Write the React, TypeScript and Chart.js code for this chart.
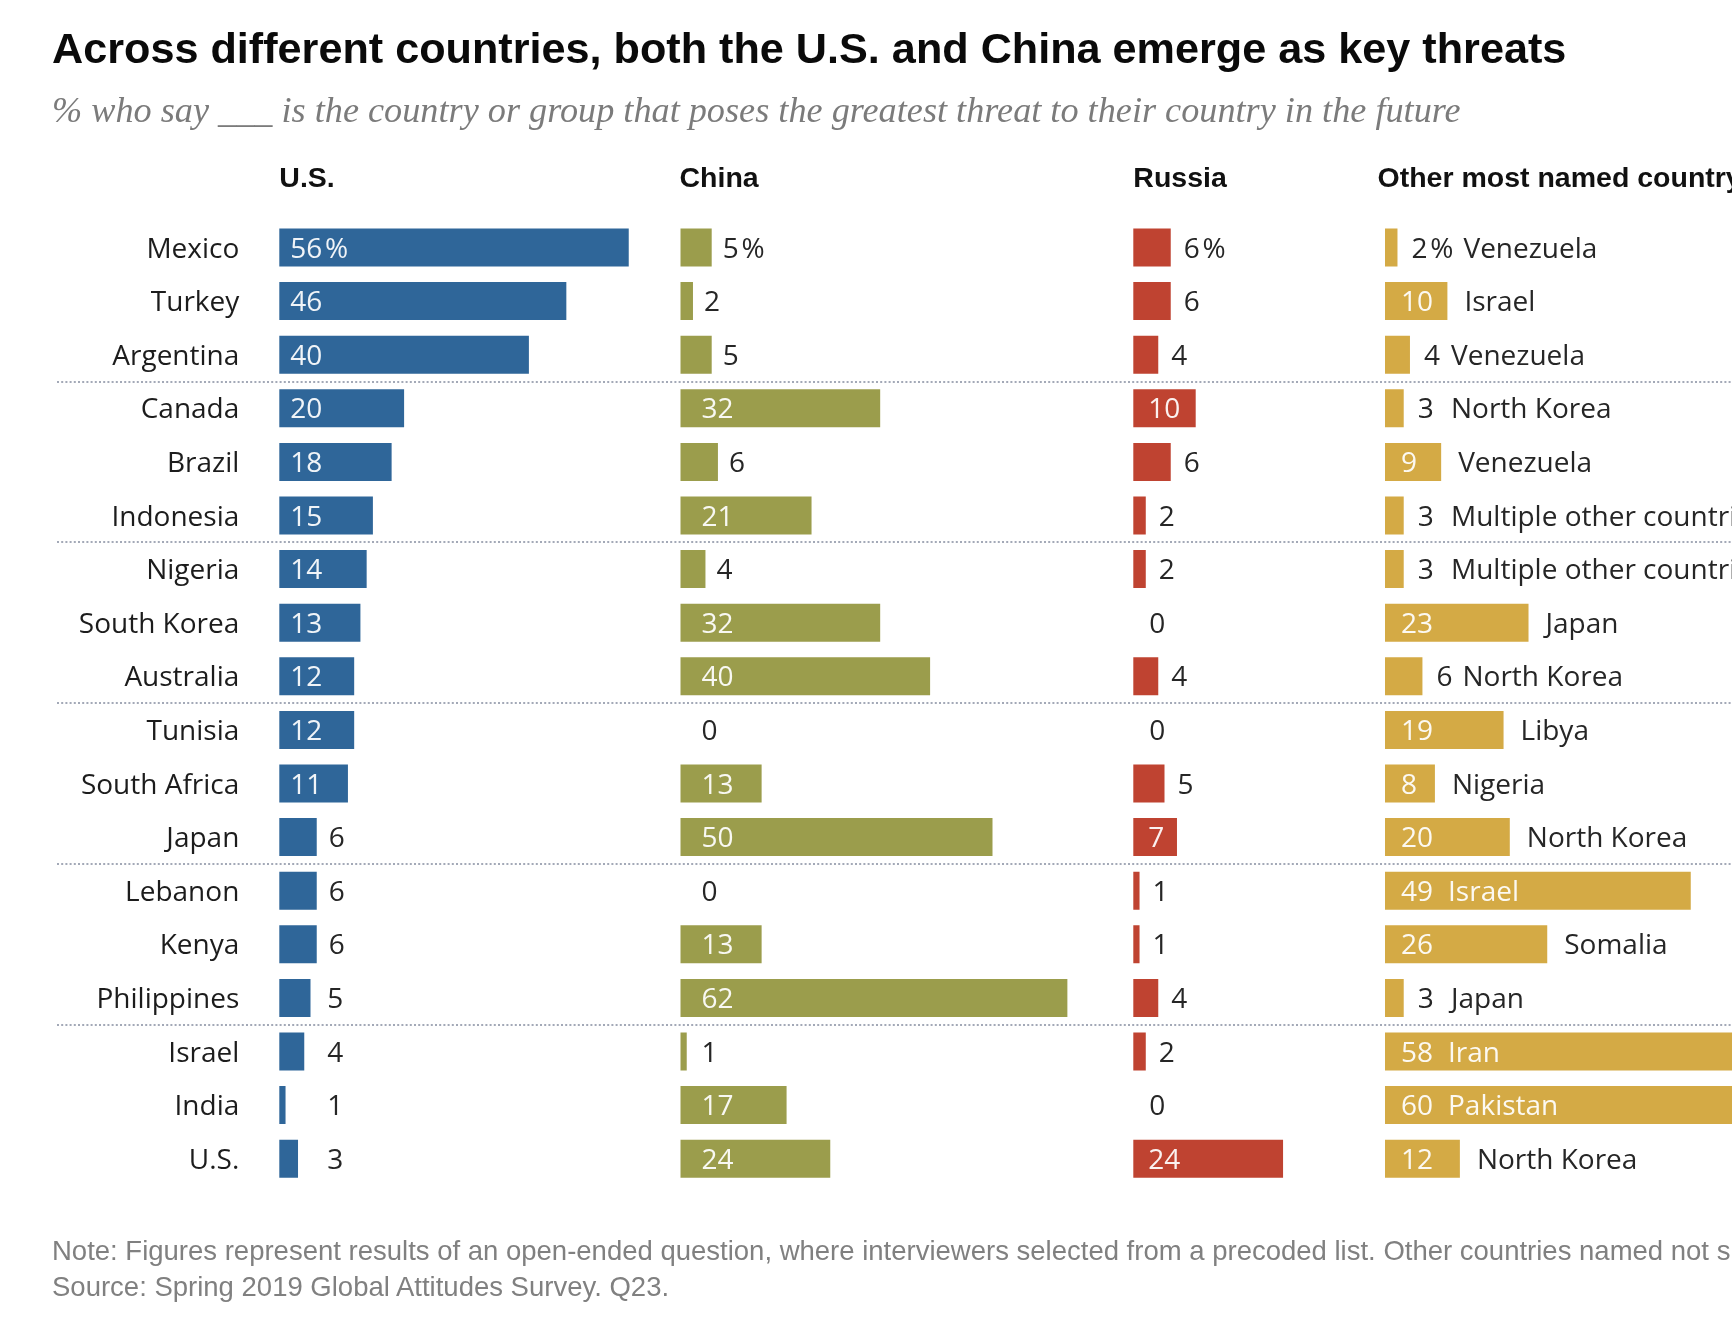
import React, { useEffect, useRef, useState } from 'react';
import { Chart, registerables } from 'chart.js';

Chart.register(...registerables);

// ---------- data ----------
const COUNTRIES = [
  'Mexico', 'Turkey', 'Argentina', 'Canada', 'Brazil', 'Indonesia',
  'Nigeria', 'South Korea', 'Australia', 'Tunisia', 'South Africa', 'Japan',
  'Lebanon', 'Kenya', 'Philippines', 'Israel', 'India', 'U.S.',
];
const US_VALUES = [56, 46, 40, 20, 18, 15, 14, 13, 12, 12, 11, 6, 6, 6, 5, 4, 1, 3];
const CHINA_VALUES = [5, 2, 5, 32, 6, 21, 4, 32, 40, 0, 13, 50, 0, 13, 62, 1, 17, 24];
const RUSSIA_VALUES = [6, 6, 4, 10, 6, 2, 2, 0, 4, 0, 5, 7, 1, 1, 4, 2, 0, 24];
const OTHER_VALUES = [2, 10, 4, 3, 9, 3, 3, 23, 6, 19, 8, 20, 49, 26, 3, 58, 60, 12];
const OTHER_NAMES = [
  'Venezuela', 'Israel', 'Venezuela', 'North Korea', 'Venezuela', 'Multiple other countries',
  'Multiple other countries', 'Japan', 'North Korea', 'Libya', 'Nigeria', 'North Korea',
  'Israel', 'Somalia', 'Japan', 'Iran', 'Pakistan', 'North Korea',
];
const COLUMN_HEADERS = ['U.S.', 'China', 'Russia', 'Other most named country'];
const GROUP_ENDS = [2, 5, 8, 11, 14];

const TITLE = 'Across different countries, both the U.S. and China emerge as key threats';
const SUBTITLE = '% who say ___ is the country or group that poses the greatest threat to their country in the future';
const NOTE = 'Note: Figures represent results of an open-ended question, where interviewers selected from a precoded list. Other countries named not shown.';
const SOURCE = 'Source: Spring 2019 Global Attitudes Survey. Q23.';

// ---------- layout / style ----------
const W = 1732;
const H = 1324;
const PX_PER_UNIT = 6.24;
const COLUMN_START = [279.3, 680.5, 1133.3, 1385];
const CHART_TOP = 220.7;
const CHART_BOTTOM = 1185.5;
const LABEL_FONT = '28px "Open Sans"';
const HEADER_FONT = 'bold 28.5px "Liberation Sans"';
const INSIDE_COLOR = 'rgba(255,255,255,0.93)';
const OUTSIDE_COLOR = '#262626';
const SUBTITLE_FAMILY = '"Liberation Serif", "DejaVu Serif", serif';
const SUBTITLE_WIDTH = 1409;

const COLUMNS = [
  { id: 'xUS', values: US_VALUES, header: COLUMN_HEADERS[0], color: '#2f6699', inPad: 11, outGap: 12, outMin: 48, headerDx: 0, names: null as string[] | null },
  { id: 'xCN', values: CHINA_VALUES, header: COLUMN_HEADERS[1], color: '#9b9d4c', inPad: 21, outGap: 11, outMin: 21, headerDx: -1, names: null },
  { id: 'xRU', values: RUSSIA_VALUES, header: COLUMN_HEADERS[2], color: '#bf4331', inPad: 15, outGap: 13, outMin: 16, headerDx: 0, names: null },
  { id: 'xOT', values: OTHER_VALUES, header: COLUMN_HEADERS[3], color: '#d4aa45', inPad: 16, outGap: 14, outMin: 14, headerDx: -7.5, names: OTHER_NAMES },
];

const labelPlugin = {
  id: 'pewLabels',
  beforeDatasetsDraw(chart: any) {
    const { ctx } = chart;
    const yScale = chart.scales.y;
    ctx.save();
    ctx.strokeStyle = '#a3a9b7';
    ctx.lineWidth = 2;
    ctx.setLineDash([2, 2.2]);
    GROUP_ENDS.forEach((i) => {
      const yy = Math.round((yScale.getPixelForValue(i) + yScale.getPixelForValue(i + 1)) / 2);
      ctx.beginPath();
      ctx.moveTo(57, yy);
      ctx.lineTo(chart.width, yy);
      ctx.stroke();
    });
    ctx.restore();
  },
  afterDatasetsDraw(chart: any) {
    const { ctx } = chart;
    const yScale = chart.scales.y;
    ctx.save();
    ctx.textBaseline = 'alphabetic';

    // row labels
    ctx.font = LABEL_FONT;
    ctx.textAlign = 'right';
    ctx.fillStyle = '#1c1c1c';
    COUNTRIES.forEach((c, i) => {
      ctx.fillText(c, 239.3, yScale.getPixelForValue(i) + 10);
    });

    // column headers
    ctx.textAlign = 'left';
    ctx.font = HEADER_FONT;
    ctx.fillStyle = '#111111';
    COLUMNS.forEach((col) => {
      const xs = chart.scales[col.id];
      ctx.fillText(col.header, xs.getPixelForValue(0) + col.headerDx, chart.chartArea.top - 33.4);
    });

    // value labels
    ctx.font = LABEL_FONT;
    COLUMNS.forEach((col, k) => {
      const meta = chart.getDatasetMeta(k);
      const xs = chart.scales[col.id];
      const start = xs.getPixelForValue(0);
      meta.data.forEach((bar: any, i: number) => {
        const v = col.values[i];
        const end = xs.getPixelForValue(v);
        const yy = bar.y + 10;
        const txt = i === 0 ? `${v}\u200a%` : String(v);
        const inside = v >= 7;
        const vx = inside ? start + col.inPad : Math.max(end + col.outGap, start + col.outMin);
        ctx.fillStyle = inside ? INSIDE_COLOR : OUTSIDE_COLOR;
        ctx.fillText(txt, vx, yy);
        if (col.names) {
          const name = col.names[i];
          const valueEnd = vx + ctx.measureText(txt).width;
          const nameW = ctx.measureText(name).width;
          const insideX = valueEnd + 15;
          if (inside && insideX + nameW <= end - 40) {
            ctx.fillStyle = INSIDE_COLOR;
            ctx.fillText(name, insideX, yy);
          } else {
            const nx = inside ? Math.max(end + 17, start + 66) : Math.max(valueEnd + 10, start + 66);
            ctx.fillStyle = OUTSIDE_COLOR;
            ctx.fillText(name, nx, yy);
          }
        }
      });
    });
    ctx.restore();
  },
};

function fitFontSize(font: (size: number) => string, text: string, target: number, fallback: number) {
  try {
    const c = document.createElement('canvas').getContext('2d');
    if (!c) return fallback;
    c.font = font(100);
    const w = c.measureText(text).width;
    return w > 0 ? (100 * target) / w : fallback;
  } catch (e) {
    return fallback;
  }
}

export default function App() {
  const canvasRef = useRef<HTMLCanvasElement | null>(null);
  const [subSize, setSubSize] = useState(36);

  useEffect(() => {
    setSubSize(fitFontSize((s) => `italic ${s}px ${SUBTITLE_FAMILY}`, SUBTITLE, SUBTITLE_WIDTH, 36));
  }, []);

  useEffect(() => {
    if (!canvasRef.current) return;
    const scales: any = {
      y: {
        type: 'category',
        labels: COUNTRIES,
        display: false,
        offset: true,
        grid: { display: false },
      },
    };
    COLUMNS.forEach((col, k) => {
      scales[col.id] = {
        type: 'linear',
        position: 'bottom',
        display: false,
        min: -COLUMN_START[k] / PX_PER_UNIT,
        max: (W - COLUMN_START[k]) / PX_PER_UNIT,
        grid: { display: false },
      };
    });
    const chart = new Chart(canvasRef.current, {
      type: 'bar',
      data: {
        labels: COUNTRIES,
        datasets: COLUMNS.map((col) => ({
          label: col.header,
          data: col.values,
          xAxisID: col.id,
          yAxisID: 'y',
          backgroundColor: col.color,
          borderWidth: 0,
          barThickness: 38,
          grouped: false,
          inflateAmount: 0,
        })),
      } as any,
      options: {
        indexAxis: 'y',
        responsive: false,
        maintainAspectRatio: false,
        animation: false,
        devicePixelRatio: 1,
        layout: { padding: { top: CHART_TOP, bottom: H - CHART_BOTTOM, left: 0, right: 0 } },
        plugins: {
          legend: { display: false },
          tooltip: { enabled: false },
          title: { display: false },
        },
        scales,
      } as any,
      plugins: [labelPlugin],
    });
    return () => chart.destroy();
  }, []);

  const textBase: React.CSSProperties = { position: 'absolute', left: 52, whiteSpace: 'nowrap', margin: 0 };
  // Liberation Serif: ascent 0.891em, descent 0.216em; baseline at y = 122.5
  const subTop = 122.5 - ((subSize - subSize * 1.107) / 2 + subSize * 0.891);

  return (
    <div style={{ position: 'fixed', left: 0, top: 0, width: W, height: H, overflow: 'hidden', background: '#ffffff' }}>
      <canvas ref={canvasRef} width={W} height={H} style={{ position: 'absolute', left: 0, top: 0, width: W, height: H }} />
      <div style={{ ...textBase, top: 26.6, font: 'bold 43.2px "Liberation Sans", Arial, sans-serif', lineHeight: '43.2px', color: '#0a0a0a' }}>
        {TITLE}
      </div>
      <div style={{ ...textBase, top: subTop, font: `italic ${subSize}px ${SUBTITLE_FAMILY}`, lineHeight: `${subSize}px`, color: '#7b7b7b' }}>
        {SUBTITLE}
      </div>
      <div style={{ ...textBase, top: 1237, font: '27.5px "Liberation Sans", Arial, sans-serif', lineHeight: '27.5px', color: '#808080' }}>
        {NOTE}
      </div>
      <div style={{ ...textBase, top: 1273, font: '27.5px "Liberation Sans", Arial, sans-serif', lineHeight: '27.5px', color: '#808080' }}>
        {SOURCE}
      </div>
    </div>
  );
}
